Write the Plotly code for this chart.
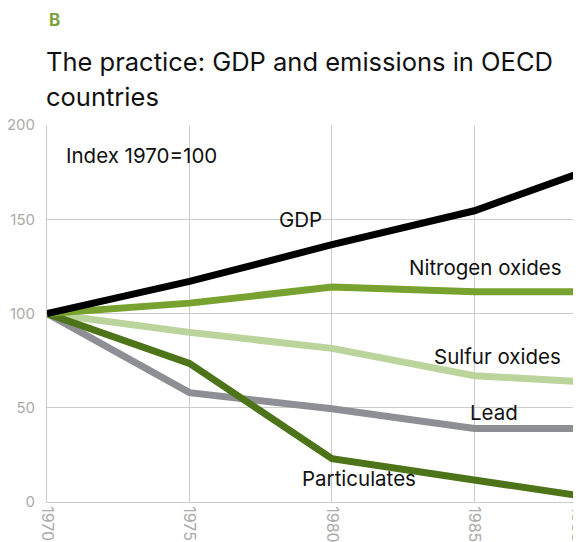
import plotly.graph_objects as go

# x positions of the data points (the last point sits at the right edge of the axis)
years = [1970, 1975, 1980, 1985, 1988.6]
tick_vals = [1970, 1975, 1980, 1985, 1988.6]
tick_text = ["1970", "1975", "1980", "1985", "1988"]

gdp = [100, 117, 136.5, 154.5, 174]
nitrogen_oxides = [100, 105.5, 114, 111.5, 111.5]
sulfur_oxides = [100, 90, 81.5, 67, 64]
lead = [100, 58, 49.5, 39, 39]
particulates = [100, 73.5, 23, 12, 3.5]

series = [
    ("GDP", gdp, "#000000"),
    ("Nitrogen oxides", nitrogen_oxides, "#78a22f"),
    ("Sulfur oxides", sulfur_oxides, "#bad49b"),
    ("Lead", lead, "#8e8f94"),
    ("Particulates", particulates, "#4e7419"),
]

# label anchor positions (data coords)
labels = [
    ("GDP", 1978.9, 150, "center"),
    ("Nitrogen oxides", 1985.4, 124.5, "center"),
    ("Sulfur oxides", 1985.8, 77, "center"),
    ("Lead", 1985.7, 47.5, "center"),
    ("Particulates", 1980.95, 12.5, "center"),
]

FONT = "Inter, 'Noto Sans', sans-serif"

fig = go.Figure()
order = ["Sulfur oxides", "Lead", "Particulates", "Nitrogen oxides", "GDP"]
for name in order:
    vals, col = next((v, c) for n, v, c in series if n == name)
    fig.add_trace(go.Scatter(
        x=years, y=vals, mode="lines", name=name,
        line=dict(color=col, width=7, shape="linear"),
        hoverinfo="x+y+name", showlegend=False,
    ))

for text, x, y, anchor in labels:
    fig.add_annotation(x=x, y=y, xref="x", yref="y", text=text, showarrow=False,
                       xanchor=anchor, yanchor="middle",
                       font=dict(family=FONT, size=20.5, color="#111111"))

fig.add_annotation(x=1970.6, y=184, xref="x", yref="y", text="Index 1970=100",
                   showarrow=False, xanchor="left", yanchor="middle",
                   font=dict(family=FONT, size=20.5, color="#111111"))

fig.add_annotation(x=0, y=1.2785, xref="paper", yref="paper", text="<b>B</b>",
                   showarrow=False, xanchor="left", yanchor="middle",
                   font=dict(family=FONT, size=17, color="#7aa33a"))
fig.add_annotation(x=-0.005, y=1.169, xref="paper", yref="paper",
                   text="The practice: GDP and emissions in OECD",
                   showarrow=False, xanchor="left", yanchor="middle",
                   font=dict(family=FONT, size=25.5, color="#111111"))
fig.add_annotation(x=-0.005, y=1.076, xref="paper", yref="paper",
                   text="countries",
                   showarrow=False, xanchor="left", yanchor="middle",
                   font=dict(family=FONT, size=25.5, color="#111111"))

fig.update_layout(
    width=581, height=542,
    margin=dict(l=39, r=12, t=117, b=48, autoexpand=False),
    paper_bgcolor="white", plot_bgcolor="white",
    font=dict(family=FONT),
    xaxis=dict(
        range=[1970, 1988.6], tickvals=tick_vals, ticktext=tick_text,
        tickangle=90, showgrid=True, gridcolor="#cccccc", gridwidth=1,
        showline=True, linecolor="#cccccc", linewidth=1, zeroline=False,
        tickfont=dict(family=FONT, size=16, color="#aaaaaa"), ticks="",
        ticklabeloverflow="allow", automargin=False, fixedrange=True,
    ),
    yaxis=dict(
        range=[0, 200], tickvals=[0, 50, 100, 150, 200],
        showgrid=True, gridcolor="#cccccc", gridwidth=1,
        showline=True, linecolor="#cccccc", linewidth=1, zeroline=False,
        tickfont=dict(family=FONT, size=15, color="#aaaaaa"), ticks="",
        ticklabelstandoff=8, ticklabeloverflow="allow",
        automargin=False, fixedrange=True,
    ),
)

fig.write_html("out.html")
